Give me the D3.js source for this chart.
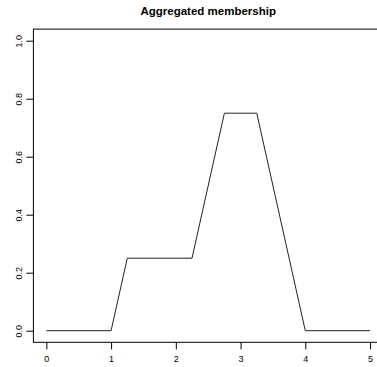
<!DOCTYPE html>
<html>
<head>
<meta charset="UTF-8">
<script src="https://d3js.org/d3.v7.min.js"></script>
<style>
  body { margin: 0; background: #fff; }
  svg { display: block; font-family: "Liberation Sans", Arial, sans-serif; }
</style>
</head>
<body>
<svg id="chart"></svg>
<script>
// aggregated membership curve
const xs = [0, 1, 1.25, 2.25, 2.75, 3.25, 4, 5];
const ys = [0, 0, 0.25, 0.25, 0.75, 0.75, 0, 0];
const xTicks = [0, 1, 2, 3, 4, 5];
const yTicks = [0, 0.2, 0.4, 0.6, 0.8, 1.0];

const width = 377, height = 367;
const svg = d3.select("#chart").attr("width", width).attr("height", height);

// R style: 4% padding round the data range
const x = d3.scaleLinear().domain([-0.2, 5.2]).range([33.4, 383]);
const y = d3.scaleLinear().domain([-0.04, 1.04]).range([342.3, 29.1]);

// frame
svg.append("rect")
    .attr("x", x(-0.2)).attr("y", y(1.04))
    .attr("width", x(5.2) - x(-0.2)).attr("height", y(-0.04) - y(1.04))
    .attr("fill", "none").attr("stroke", "#000").attr("stroke-width", 1);

// x axis (ticks only, below frame)
const gx = svg.append("g").attr("transform", `translate(0,${y(-0.04)})`)
    .call(d3.axisBottom(x).tickValues(xTicks).tickFormat(d3.format("d")).tickSize(7).tickPadding(6));
gx.select(".domain").remove();
gx.selectAll("text").attr("font-size", 9).attr("fill", "#000").attr("font-family", null);

// y axis, labels rotated like R
const gy = svg.append("g").attr("transform", `translate(${x(-0.2)},0)`)
    .call(d3.axisLeft(y).tickValues(yTicks).tickFormat(d3.format(".1f")).tickSize(7));
gy.select(".domain").remove();
gy.selectAll("text")
    .attr("font-size", 9).attr("fill", "#000").attr("font-family", null)
    .attr("text-anchor", "middle")
    .attr("x", null).attr("dy", null)
    .attr("transform", "translate(-15,0) rotate(-90)")
    .attr("y", 0).attr("dy", "0.35em");

// title
svg.append("text")
    .attr("x", (x(-0.2) + x(5.2)) / 2).attr("y", 15)
    .attr("text-anchor", "middle")
    .attr("font-size", 11.5).attr("font-weight", "bold")
    .text("Aggregated membership");

// curve
const pts = xs.map((v, i) => [v, ys[i]]);
svg.append("path")
    .datum(pts)
    .attr("fill", "none").attr("stroke", "#222").attr("stroke-width", 1)
    .attr("d", d3.line().x(d => x(d[0])).y(d => y(d[1])));
</script>
</body>
</html>
